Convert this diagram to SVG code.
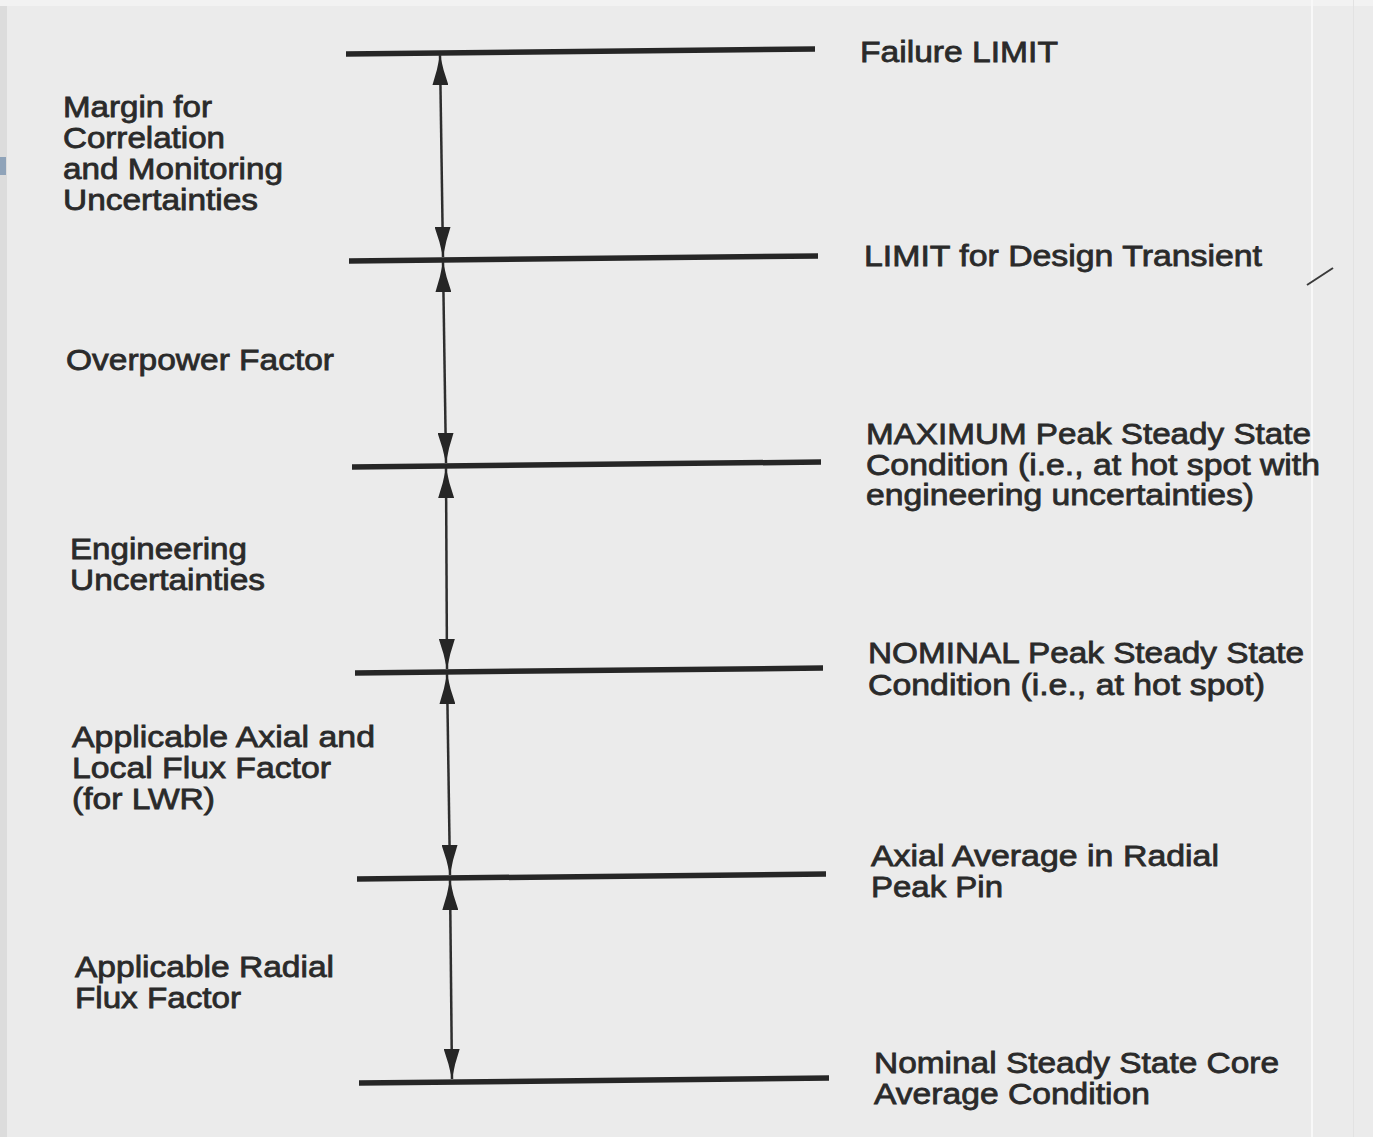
<svg xmlns="http://www.w3.org/2000/svg" width="1397" height="1137" viewBox="0 0 1397 1137">
  <style>
    .lvl { stroke: #262626; stroke-width: 5.5; stroke-linecap: butt; fill: none; }
    .arr { stroke: #2e2e2e; stroke-width: 2.5; fill: none; marker-start: url(#head); marker-end: url(#head); }
    .t { font-family: "Liberation Sans", Arial, Helvetica, sans-serif; font-size: 30px; fill: #2a2a2a; stroke: #2a2a2a; stroke-width: 0.8; }
  </style>
  <defs>
    <marker id="head" viewBox="0 0 30 16" refX="30" refY="8" markerWidth="30" markerHeight="16" markerUnits="userSpaceOnUse" orient="auto-start-reverse">
      <path d="M0,0 Q14,5 30,8 Q14,11 0,16 Z" fill="#262626"/>
    </marker>
  </defs>

  <!-- scanned page background -->
  <rect x="0" y="0" width="1397" height="1137" fill="#ffffff"/>
  <rect x="0" y="0" width="1373" height="1137" fill="#ebebeb"/>
  <rect x="0" y="0" width="7" height="1137" fill="#dcdcdc"/>
  <rect x="0" y="157" width="6" height="18" fill="#8fa3b9"/>
  <rect x="0" y="0" width="1373" height="6" fill="#f2f2f2"/>
  <rect x="1311" y="0" width="2" height="1137" fill="#f8f8f8"/>
  <rect x="1353" y="0" width="1" height="1137" fill="#e2e2e2"/>
  <line x1="1307" y1="285" x2="1333" y2="268" stroke="#3a3a3a" stroke-width="2"/>

  <!-- levels -->
  <g id="level-failure-limit">
    <line class="lvl" x1="346" y1="54" x2="815" y2="49"/>
    <text class="t" x="860" y="62" textLength="198" lengthAdjust="spacingAndGlyphs">Failure LIMIT</text>
  </g>
  <g id="level-design-transient">
    <line class="lvl" x1="349" y1="261" x2="818" y2="256"/>
    <text class="t" x="864" y="266" textLength="398" lengthAdjust="spacingAndGlyphs">LIMIT for Design Transient</text>
  </g>
  <g id="level-maximum-peak">
    <line class="lvl" x1="352" y1="467" x2="821" y2="462"/>
    <text class="t" x="866" y="444" textLength="445" lengthAdjust="spacingAndGlyphs">MAXIMUM Peak Steady State</text>
    <text class="t" x="866" y="475" textLength="454" lengthAdjust="spacingAndGlyphs">Condition (i.e., at hot spot with</text>
    <text class="t" x="866" y="505" textLength="388" lengthAdjust="spacingAndGlyphs">engineering uncertainties)</text>
  </g>
  <g id="level-nominal-peak">
    <line class="lvl" x1="355" y1="673" x2="823" y2="668"/>
    <text class="t" x="868" y="663" textLength="436" lengthAdjust="spacingAndGlyphs">NOMINAL Peak Steady State</text>
    <text class="t" x="868" y="695" textLength="397" lengthAdjust="spacingAndGlyphs">Condition (i.e., at hot spot)</text>
  </g>
  <g id="level-axial-average">
    <line class="lvl" x1="357" y1="879" x2="826" y2="874"/>
    <text class="t" x="871" y="866" textLength="348" lengthAdjust="spacingAndGlyphs">Axial Average in Radial</text>
    <text class="t" x="871" y="897" textLength="132" lengthAdjust="spacingAndGlyphs">Peak Pin</text>
  </g>
  <g id="level-core-average">
    <line class="lvl" x1="359" y1="1083" x2="829" y2="1078"/>
    <text class="t" x="874" y="1073" textLength="405" lengthAdjust="spacingAndGlyphs">Nominal Steady State Core</text>
    <text class="t" x="874" y="1104" textLength="276" lengthAdjust="spacingAndGlyphs">Average Condition</text>
  </g>

  <!-- margin labels -->
  <g id="label-correlation-margin">
    <text class="t" x="63" y="117" textLength="149" lengthAdjust="spacingAndGlyphs">Margin for</text>
    <text class="t" x="63" y="148" textLength="162" lengthAdjust="spacingAndGlyphs">Correlation</text>
    <text class="t" x="63" y="179" textLength="220" lengthAdjust="spacingAndGlyphs">and Monitoring</text>
    <text class="t" x="63" y="210" textLength="195" lengthAdjust="spacingAndGlyphs">Uncertainties</text>
  </g>
  <g id="label-overpower">
    <text class="t" x="66" y="370" textLength="268" lengthAdjust="spacingAndGlyphs">Overpower Factor</text>
  </g>
  <g id="label-engineering">
    <text class="t" x="70" y="559" textLength="177" lengthAdjust="spacingAndGlyphs">Engineering</text>
    <text class="t" x="70" y="590" textLength="195" lengthAdjust="spacingAndGlyphs">Uncertainties</text>
  </g>
  <g id="label-axial-local">
    <text class="t" x="72" y="747" textLength="303" lengthAdjust="spacingAndGlyphs">Applicable Axial and</text>
    <text class="t" x="72" y="778" textLength="259" lengthAdjust="spacingAndGlyphs">Local Flux Factor</text>
    <text class="t" x="72" y="809" textLength="143" lengthAdjust="spacingAndGlyphs">(for LWR)</text>
  </g>
  <g id="label-radial">
    <text class="t" x="75" y="977" textLength="259" lengthAdjust="spacingAndGlyphs">Applicable Radial</text>
    <text class="t" x="75" y="1008" textLength="166" lengthAdjust="spacingAndGlyphs">Flux Factor</text>
  </g>

  <!-- connectors: double-headed dimension arrows -->
  <g id="connectors">
    <line class="arr" x1="440" y1="55" x2="443" y2="257"/>
    <line class="arr" x1="443" y1="262" x2="446" y2="463"/>
    <line class="arr" x1="446" y1="468" x2="447" y2="669"/>
    <line class="arr" x1="447" y1="674" x2="450" y2="875"/>
    <line class="arr" x1="450" y1="880" x2="452" y2="1079"/>
  </g>
</svg>
